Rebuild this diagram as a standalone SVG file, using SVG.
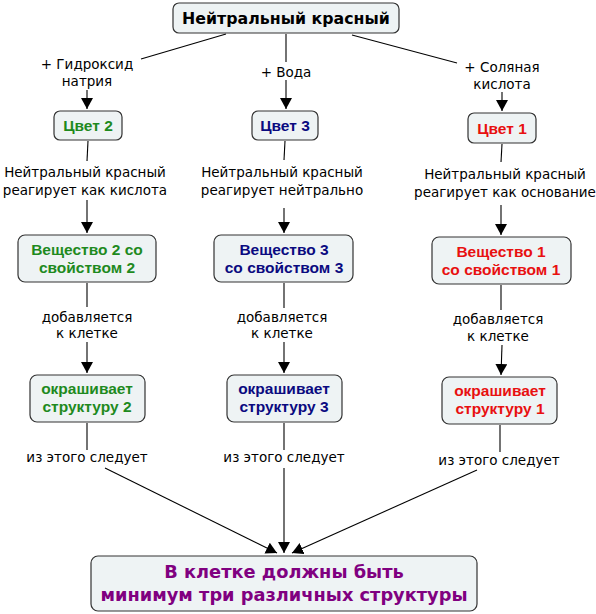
<svg xmlns="http://www.w3.org/2000/svg" width="596" height="614" viewBox="0 0 596 614">
<defs>
<marker id="ah" markerWidth="12" markerHeight="12" refX="11" refY="6" orient="auto" markerUnits="userSpaceOnUse">
<path d="M0,0 L11,6 L0,12 Z" fill="#000"/>
</marker>
<style>
.box{fill:#EEF3F4;stroke:#333;stroke-width:1.2}
.ln{stroke:#000;stroke-width:1.1;fill:none}
.ar{stroke:#000;stroke-width:1.1;fill:none;marker-end:url(#ah)}
.lbl{font-family:"DejaVu Sans",Verdana,sans-serif;font-size:13.5px;fill:#000;text-anchor:middle}
.nt{font-family:"Liberation Sans",Arial,sans-serif;font-size:15.5px;font-weight:bold;text-anchor:middle}
.big{font-family:"DejaVu Sans",Verdana,sans-serif;font-weight:bold;text-anchor:middle}
.g{fill:#1E8A1E}.b{fill:#0A0A80}.r{fill:#E81010}.p{fill:#800080}
</style>
</defs>
<rect width="596" height="614" fill="#fff"/>
<g id="connectors">
<line class="ln" x1="226" y1="34" x2="141" y2="59"/>
<line class="ln" x1="286" y1="34" x2="286" y2="62"/>
<line class="ln" x1="352" y1="35" x2="457" y2="63"/>
<line class="ar" x1="87" y1="90" x2="87" y2="109"/>
<line class="ar" x1="286" y1="80" x2="286" y2="109"/>
<line class="ar" x1="502" y1="92" x2="502" y2="111"/>
<line class="ln" x1="88" y1="141" x2="87" y2="161"/>
<line class="ln" x1="285" y1="141" x2="284" y2="160"/>
<line class="ln" x1="502" y1="144" x2="501" y2="162"/>
<line class="ar" x1="87" y1="200" x2="87" y2="233"/>
<line class="ar" x1="284" y1="208" x2="284" y2="233"/>
<line class="ar" x1="501" y1="205" x2="501" y2="235"/>
<line class="ln" x1="87" y1="283" x2="87" y2="307"/>
<line class="ln" x1="284" y1="283" x2="284" y2="308"/>
<line class="ln" x1="501" y1="285" x2="501" y2="310"/>
<line class="ar" x1="87" y1="342" x2="87" y2="373"/>
<line class="ar" x1="284" y1="342" x2="284" y2="373"/>
<line class="ar" x1="502" y1="345" x2="501" y2="375"/>
<line class="ln" x1="87" y1="423" x2="87" y2="450"/>
<line class="ln" x1="284" y1="423" x2="284" y2="450"/>
<line class="ln" x1="500" y1="425" x2="500" y2="452"/>
<line class="ar" x1="105" y1="468" x2="277" y2="553"/>
<line class="ar" x1="284" y1="468" x2="284" y2="553"/>
<line class="ar" x1="477" y1="470" x2="292" y2="553"/>
</g>
<g id="labels">
<text class="lbl" x="87" y="69">+ Гидроксид</text>
<text class="lbl" x="87" y="86">натрия</text>
<text class="lbl" x="286" y="77">+ Вода</text>
<text class="lbl" x="502" y="72">+ Соляная</text>
<text class="lbl" x="502" y="89">кислота</text>
<text class="lbl" x="85" y="177">Нейтральный красный</text>
<text class="lbl" x="85" y="195">реагирует как кислота</text>
<text class="lbl" x="282" y="177">Нейтральный красный</text>
<text class="lbl" x="282" y="195">реагирует нейтрально</text>
<text class="lbl" x="505" y="179">Нейтральный красный</text>
<text class="lbl" x="505" y="197">реагирует как основание</text>
<text class="lbl" x="87" y="322">добавляется</text>
<text class="lbl" x="87" y="338">к клетке</text>
<text class="lbl" x="282" y="322">добавляется</text>
<text class="lbl" x="282" y="338">к клетке</text>
<text class="lbl" x="498" y="324">добавляется</text>
<text class="lbl" x="498" y="341">к клетке</text>
<text class="lbl" x="87" y="462">из этого следует</text>
<text class="lbl" x="284" y="462">из этого следует</text>
<text class="lbl" x="499" y="465">из этого следует</text>
</g>
<g id="n_top">
<rect class="box" x="173" y="3" width="226" height="30" rx="6"/>
<text class="big" x="286" y="24" font-size="15.8" fill="#000">Нейтральный красный</text>
</g>
<g id="n_color2">
<rect class="box" x="54" y="111" width="68" height="29" rx="6"/>
<text class="nt g" x="88" y="131">Цвет 2</text>
</g>
<g id="n_color3">
<rect class="box" x="252" y="111" width="66" height="29" rx="6"/>
<text class="nt b" x="285" y="131">Цвет 3</text>
</g>
<g id="n_color1">
<rect class="box" x="468" y="113" width="68" height="30" rx="6"/>
<text class="nt r" x="502" y="134">Цвет 1</text>
</g>
<g id="n_sub2">
<rect class="box" x="18" y="235" width="138" height="47" rx="7"/>
<text class="nt g" x="87" y="255">Вещество 2 со</text>
<text class="nt g" x="87" y="273">свойством 2</text>
</g>
<g id="n_sub3">
<rect class="box" x="214" y="235" width="139" height="47" rx="7"/>
<text class="nt b" x="284" y="255">Вещество 3</text>
<text class="nt b" x="284" y="273">со свойством 3</text>
</g>
<g id="n_sub1">
<rect class="box" x="432" y="237" width="139" height="47" rx="7"/>
<text class="nt r" x="501" y="257">Вещество 1</text>
<text class="nt r" x="501" y="275">со свойством 1</text>
</g>
<g id="n_str2">
<rect class="box" x="30" y="375" width="115" height="47" rx="7"/>
<text class="nt g" x="87" y="394">окрашивает</text>
<text class="nt g" x="87" y="412">структуру 2</text>
</g>
<g id="n_str3">
<rect class="box" x="227" y="375" width="115" height="47" rx="7"/>
<text class="nt b" x="284" y="394">окрашивает</text>
<text class="nt b" x="284" y="412">структуру 3</text>
</g>
<g id="n_str1">
<rect class="box" x="442" y="377" width="115" height="47" rx="7"/>
<text class="nt r" x="500" y="396">окрашивает</text>
<text class="nt r" x="500" y="414">структуру 1</text>
</g>
<g id="n_result">
<rect class="box" x="91" y="556" width="386" height="55" rx="7"/>
<text class="big p" x="284" y="578" font-size="17.8">В клетке должны быть</text>
<text class="big p" x="284" y="601" font-size="17.8">минимум три различных структуры</text>
</g>
</svg>
